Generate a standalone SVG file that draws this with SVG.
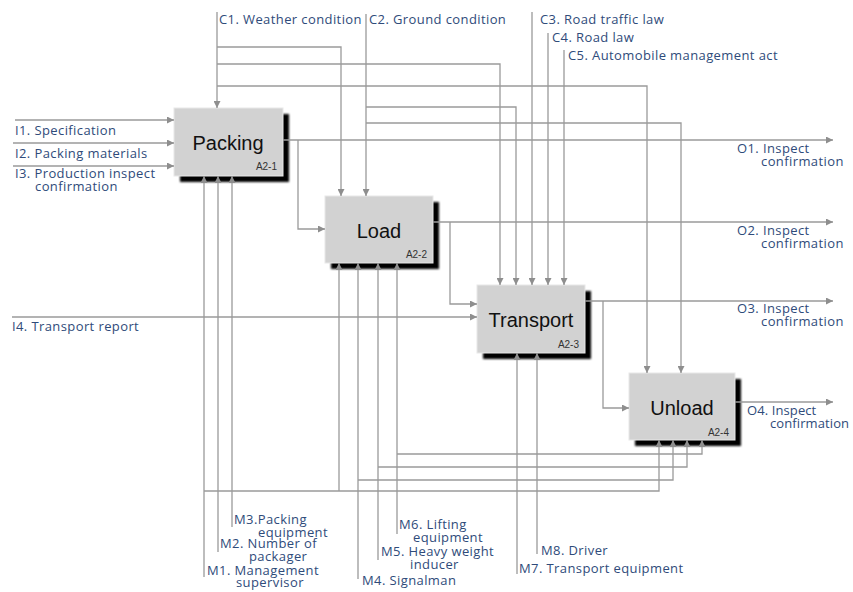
<svg xmlns="http://www.w3.org/2000/svg" width="853" height="592" viewBox="0 0 853 592">
  <style>
    .wire { fill: none; stroke: #9a9a9a; stroke-width: 1.3; }
    .arr { marker-end: url(#ah); }
    .box { fill: #d2d2d2; stroke: #e8e8e8; stroke-width: 1; }
    .shadow { fill: #000; filter: url(#soft); }
    .title { font-family: "Liberation Sans", Arial, sans-serif; font-size: 20px; fill: #111; text-anchor: middle; }
    .code { font-family: "Liberation Sans", Arial, sans-serif; font-size: 10px; fill: #333; text-anchor: end; }
    .lbl { font-family: "Open Sans", "Noto Sans", sans-serif; font-size: 13px; letter-spacing: 0.4px; fill: #2f4b7a; }
    .tight { letter-spacing: 0.1px; }
  </style>
  <defs>
    <marker id="ah" viewBox="0 0 10 10" refX="10" refY="5" markerWidth="8" markerHeight="7" markerUnits="userSpaceOnUse" orient="auto">
      <path d="M0,0 L10,5 L0,10 z" fill="#8e8e8e"/>
    </marker>
    <filter id="soft" x="-10%" y="-10%" width="120%" height="120%">
      <feGaussianBlur stdDeviation="1.2"/>
    </filter>
  </defs>
  <rect width="853" height="592" fill="#fff"/>

  <!-- activity boxes -->
  <g id="packing">
    <rect class="shadow" x="180" y="114" width="109" height="68"/>
    <rect class="box" x="174" y="108" width="109" height="68"/>
    <text class="title" x="228" y="150">Packing</text>
    <text class="code" x="277" y="170">A2-1</text>
  </g>
  <g id="load">
    <rect class="shadow" x="331" y="202" width="108" height="67"/>
    <rect class="box" x="325" y="196" width="108" height="67"/>
    <text class="title" x="379" y="238">Load</text>
    <text class="code" x="427" y="258">A2-2</text>
  </g>
  <g id="transport">
    <rect class="shadow" x="483" y="291" width="108" height="68"/>
    <rect class="box" x="477" y="285" width="108" height="68"/>
    <text class="title" x="531" y="327">Transport</text>
    <text class="code" x="579" y="348">A2-3</text>
  </g>
  <g id="unload">
    <rect class="shadow" x="635" y="379" width="106" height="67"/>
    <rect class="box" x="629" y="373" width="106" height="67"/>
    <text class="title" x="682" y="415">Unload</text>
    <text class="code" x="729" y="436">A2-4</text>
  </g>

  <!-- ICOM arrows -->
  <g id="connectors">
    <!-- inputs -->
    <path class="wire arr" d="M15,120 H174"/>
    <path class="wire arr" d="M13,143 H174"/>
    <path class="wire arr" d="M13,166 H174"/>
    <path class="wire arr" d="M12,317 H477"/>
    <!-- controls -->
    <path class="wire arr" d="M217,12 V108"/>
    <path class="wire arr" d="M217,47 H341 V196"/>
    <path class="wire arr" d="M217,64 H500 V285"/>
    <path class="wire arr" d="M217,86 H647 V373"/>
    <path class="wire arr" d="M366,14 V196"/>
    <path class="wire arr" d="M366,107 H516 V285"/>
    <path class="wire arr" d="M366,123 H681 V373"/>
    <path class="wire arr" d="M532,12 V285"/>
    <path class="wire arr" d="M548,33 V285"/>
    <path class="wire arr" d="M564,50 V285"/>
    <!-- outputs -->
    <path class="wire arr" d="M283,140 H833"/>
    <path class="wire arr" d="M298,140 V229 H325"/>
    <path class="wire arr" d="M433,222 H833"/>
    <path class="wire arr" d="M450,222 V304 H477"/>
    <path class="wire arr" d="M585,301 H833"/>
    <path class="wire arr" d="M603,301 V408 H629"/>
    <path class="wire arr" d="M735,402 H833"/>
    <!-- mechanisms -->
    <path class="wire arr" d="M204,577 V176"/>
    <path class="wire arr" d="M218,552 V176"/>
    <path class="wire arr" d="M232,527 V176"/>
    <path class="wire arr" d="M339,491 V263"/>
    <path class="wire arr" d="M204,491 H659 V440"/>
    <path class="wire arr" d="M358,579 V263"/>
    <path class="wire arr" d="M358,480 H673 V440"/>
    <path class="wire arr" d="M378,560 V263"/>
    <path class="wire arr" d="M378,467 H687 V440"/>
    <path class="wire arr" d="M397,534 V263"/>
    <path class="wire arr" d="M397,454 H702 V440"/>
    <path class="wire arr" d="M517,574 V353"/>
    <path class="wire arr" d="M537,554 V353"/>
  </g>

  <!-- labels -->
  <g id="labels" class="lbl">
    <text x="219" y="24">C1. Weather condition</text>
    <text x="369" y="24">C2. Ground condition</text>
    <text x="540" y="24">C3. Road traffic law</text>
    <text x="552" y="42">C4. Road law</text>
    <text x="568" y="60">C5. Automobile management act</text>

    <text x="15" y="135">I1. Specification</text>
    <text x="15" y="158">I2. Packing materials</text>
    <text x="15" y="178">I3. Production inspect<tspan x="35" dy="12.5">confirmation</tspan></text>
    <text x="12" y="331">I4. Transport report</text>

    <text x="737" y="153">O1. Inspect<tspan x="761" dy="12.5">confirmation</tspan></text>
    <text x="737" y="235">O2. Inspect<tspan x="761" dy="12.5">confirmation</tspan></text>
    <text x="737" y="313">O3. Inspect<tspan x="761" dy="12.5">confirmation</tspan></text>
    <text x="747" y="415" class="tight">O4. Inspect<tspan x="770" dy="12.5">confirmation</tspan></text>

    <text x="234" y="524">M3.Packing<tspan x="258" dy="12.5">equipment</tspan></text>
    <text x="220" y="548">M2. Number of<tspan x="249" dy="12.5">packager</tspan></text>
    <text x="207" y="575">M1. Management<tspan x="236" dy="12">supervisor</tspan></text>
    <text x="399" y="529">M6. Lifting<tspan x="413" dy="12.5">equipment</tspan></text>
    <text x="381" y="556">M5. Heavy weight<tspan x="410" dy="12.5">inducer</tspan></text>
    <text x="362" y="585">M4. Signalman</text>
    <text x="541" y="555">M8. Driver</text>
    <text x="519" y="573">M7. Transport equipment</text>
  </g>
</svg>
